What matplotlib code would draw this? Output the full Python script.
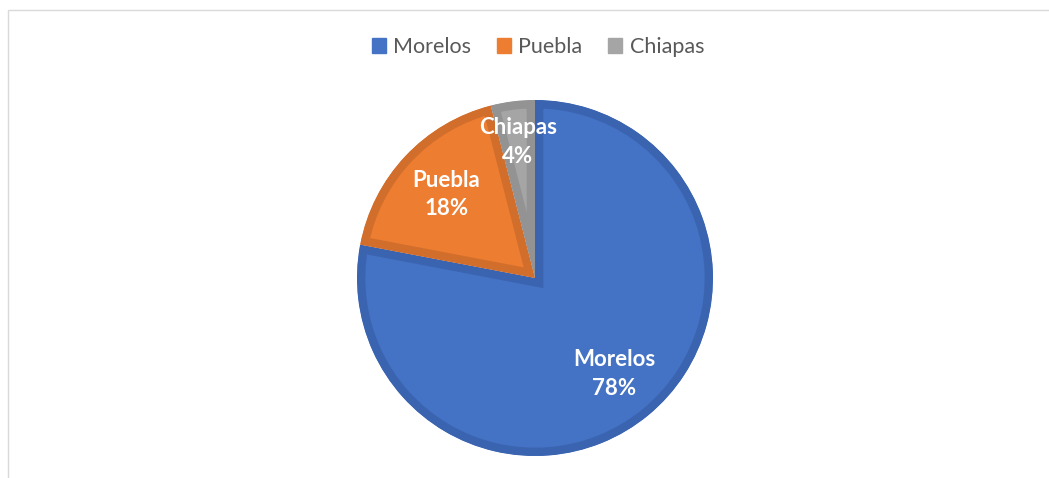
import numpy as np
import matplotlib
matplotlib.use("Agg")
import matplotlib.pyplot as plt
import matplotlib.patches as mpatches

states = ["Morelos", "Puebla", "Chiapas"]
shares = [78, 18, 4]

FILL   = ["#4472C4", "#ED7D31", "#A5A5A5"]
BORDER = ["#3B64B0", "#D26E2C", "#939393"]
LABEL_R = [0.70, 0.685, 0.77]

W, H = 1049, 478
CX, CY, R = 535, 278, 178

fig = plt.figure(figsize=(W / 100, H / 100), dpi=100)
fig.patch.set_facecolor("white")

# light chart frame
fig.add_artist(mpatches.Rectangle((8 / W, -0.01), 1.1, (H - 10) / H + 0.01,
                                  transform=fig.transFigure, fill=False,
                                  edgecolor="#D9D9D9", linewidth=1.0))

ax = fig.add_axes([(CX - R) / W, (H - CY - R) / H, 2 * R / W, 2 * R / H])
wedges, _ = ax.pie(shares, colors=FILL, startangle=90, counterclock=False,
                   radius=1.0, wedgeprops=dict(linewidth=0))

# inner darker border: stroke clipped to the wedge itself
for w, bc in zip(wedges, BORDER):
    w.set_edgecolor(bc)
    w.set_linewidth(12)
    w.set_joinstyle("miter")
    w.set_clip_path(w)
    w.set_clip_on(True)

for w, name, pct, d in zip(wedges, states, shares, LABEL_R):
    mid = np.deg2rad((w.theta1 + w.theta2) / 2)
    ax.text(d * np.cos(mid), d * np.sin(mid), f"{name}\n{pct}%",
            ha="center", va="center", color="white", fontsize=16,
            fontweight="bold", family="Lato", linespacing=1.45)

ax.set_xlim(-1, 1)
ax.set_ylim(-1, 1)
ax.axis("off")

handles = [mpatches.Patch(color=c, label=s) for c, s in zip(FILL, states)]
leg = fig.legend(handles=handles, loc="center", bbox_to_anchor=(538 / W, 1 - 47 / H),
                 ncol=3, frameon=False, handlelength=0.65, handleheight=0.65,
                 handletextpad=0.35, columnspacing=1.2,
                 prop=dict(family="Lato", size=15.5))
for t in leg.get_texts():
    t.set_color("#595959")

fig.savefig("out.png", dpi=100)
